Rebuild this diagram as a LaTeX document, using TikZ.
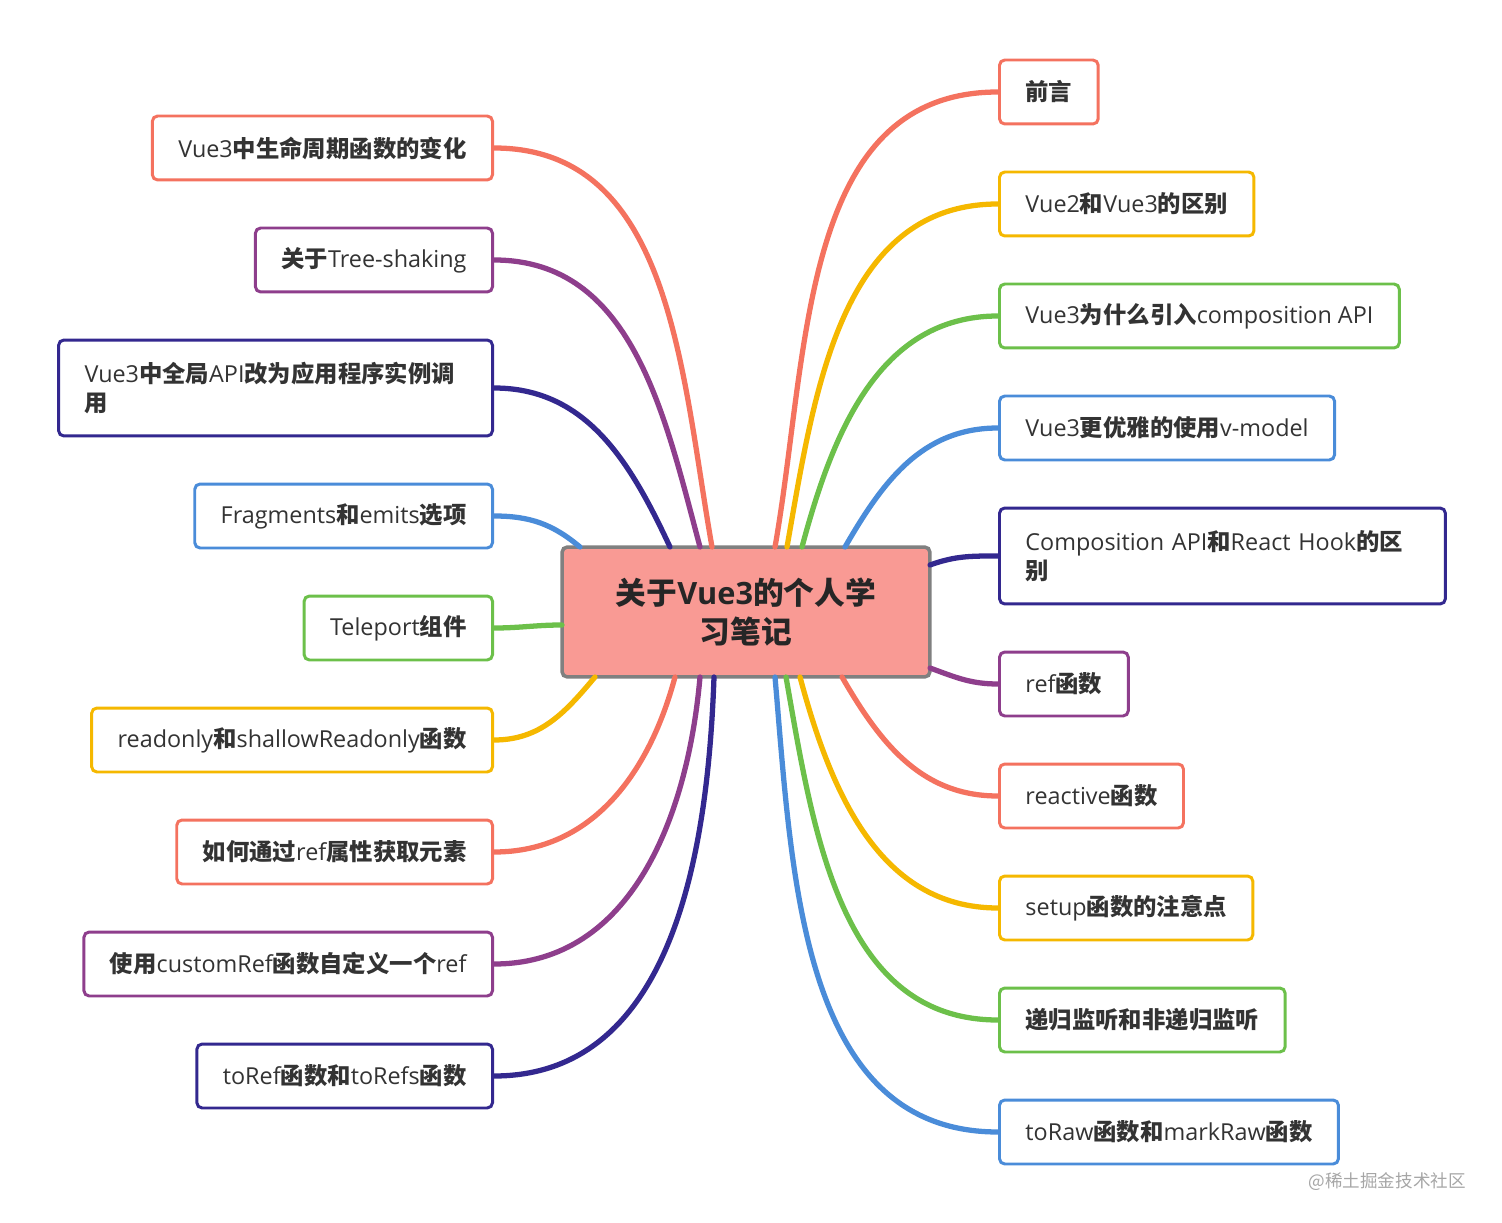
\documentclass[tikz,border=0pt]{standalone}
\usepackage{fontspec}
\setmainfont{Open Sans}
\newfontfamily\cjk{Noto Sans CJK SC}
\usetikzlibrary{positioning}
\definecolor{cred}{HTML}{F4725F}
\definecolor{cyel}{HTML}{F5B800}
\definecolor{cgrn}{HTML}{6CC04A}
\definecolor{cblu}{HTML}{4A8CD9}
\definecolor{cnav}{HTML}{33288F}
\definecolor{cpur}{HTML}{8E3E8C}
\definecolor{cpink}{HTML}{F99A94}
\newcommand{\zh}[1]{{\cjk\bfseries #1}}
\tikzset{
  topic/.style={draw=#1, line width=1.7pt, rounded corners=3pt, fill=white,
    inner xsep=0.52cm, minimum height=1.28cm, font=\fontsize{13.3}{16.5}\selectfont, text=black!80, align=left},
  rtopic/.style={topic=#1, anchor=west},
  ltopic/.style={topic=#1, anchor=east},
  branch/.style={draw=#1, line width=3pt, line cap=round}
}
\begin{document}
\begin{tikzpicture}[x=0.02cm,y=-0.02cm]
\useasboundingbox (0,0) rectangle (1502,1223);
% centre
\node[draw=gray, line width=2pt, rounded corners=3pt, fill=cpink, minimum width=7.36cm, minimum height=2.6cm,
  align=center, font=\fontsize{17.5}{22.5}\selectfont\bfseries, text=black!85] (ctr) at (746,612) {\zh{关于}Vue3\zh{的个人学}\\\zh{习笔记}};
% right side
\node[rtopic=cred] (r1) at (998,92) {\zh{前言}};
\node[rtopic=cyel] (r2) at (998,204) {Vue2\zh{和}Vue3\zh{的区别}};
\node[rtopic=cgrn] (r3) at (998,316) {Vue3\zh{为什么引入}composition API};
\node[rtopic=cblu] (r4) at (998,428) {Vue3\zh{更优雅的使用}v-model};
\node[rtopic=cnav, text width=7.88cm, minimum height=1.92cm] (r5) at (998,556) {Composition API\zh{和}React Hook\zh{的区}\\\zh{别}};
\node[rtopic=cpur] (r6) at (998,684) {ref\zh{函数}};
\node[rtopic=cred] (r7) at (998,796) {reactive\zh{函数}};
\node[rtopic=cyel] (r8) at (998,908) {setup\zh{函数的注意点}};
\node[rtopic=cgrn] (r9) at (998,1020) {\zh{递归监听和非递归监听}};
\node[rtopic=cblu] (r10) at (998,1132) {toRaw\zh{函数和}markRaw\zh{函数}};
% left side
\node[ltopic=cred] (l1) at (494,148) {Vue3\zh{中生命周期函数的变化}};
\node[ltopic=cpur] (l2) at (494,260) {\zh{关于}Tree-shaking};
\node[ltopic=cnav, text width=7.64cm, minimum height=1.92cm] (l3) at (494,388) {Vue3\zh{中全局}API\zh{改为应用程序实例调}\\\zh{用}};
\node[ltopic=cblu] (l4) at (494,516) {Fragments\zh{和}emits\zh{选项}};
\node[ltopic=cgrn] (l5) at (494,628) {Teleport\zh{组件}};
\node[ltopic=cyel] (l6) at (494,740) {readonly\zh{和}shallowReadonly\zh{函数}};
\node[ltopic=cred] (l7) at (494,852) {\zh{如何通过}ref\zh{属性获取元素}};
\node[ltopic=cpur] (l8) at (494,964) {\zh{使用}customRef\zh{函数自定义一个}ref};
\node[ltopic=cnav] (l9) at (494,1076) {toRef\zh{函数和}toRefs\zh{函数}};
% branch roots
\coordinate (sr1) at (775,547);
\coordinate (sr2) at (787,547);
\coordinate (sr3) at (802,547);
\coordinate (sr4) at (845,547);
\coordinate (sr5) at (930,565);
\coordinate (sr6) at (930,668);
\coordinate (sr7) at (842,677);
\coordinate (sr8) at (800,677);
\coordinate (sr9) at (786,677);
\coordinate (sr10) at (775,677);
\coordinate (sl1) at (712,547);
\coordinate (sl2) at (700,547);
\coordinate (sl3) at (670,547);
\coordinate (sl4) at (580,547);
\coordinate (sl5) at (562,625);
\coordinate (sl6) at (595,677);
\coordinate (sl7) at (675,677);
\coordinate (sl8) at (700,677);
\coordinate (sl9) at (714,677);
\draw[branch=cred] (sr1) to[out=80,in=180] (r1.west);
\draw[branch=cyel] (sr2) to[out=80,in=180] (r2.west);
\draw[branch=cgrn] (sr3) to[out=75,in=180] (r3.west);
\draw[branch=cblu] (sr4) to[out=60,in=180] (r4.west);
\draw[branch=cnav] (sr5) to[out=20,in=180] (r5.west);
\draw[branch=cpur] (sr6) to[out=-20,in=180] (r6.west);
\draw[branch=cred] (sr7) to[out=-60,in=180] (r7.west);
\draw[branch=cyel] (sr8) to[out=-75,in=180] (r8.west);
\draw[branch=cgrn] (sr9) to[out=-80,in=180] (r9.west);
\draw[branch=cblu] (sr10) to[out=-85,in=180] (r10.west);
\draw[branch=cred] (sl1) to[out=100,in=0] (l1.east);
\draw[branch=cpur] (sl2) to[out=105,in=0] (l2.east);
\draw[branch=cnav] (sl3) to[out=115,in=0] (l3.east);
\draw[branch=cblu] (sl4) to[out=140,in=0] (l4.east);
\draw[branch=cgrn] (sl5) to[out=180,in=0] (l5.east);
\draw[branch=cyel] (sl6) to[out=-130,in=0] (l6.east);
\draw[branch=cred] (sl7) to[out=-105,in=0] (l7.east);
\draw[branch=cpur] (sl8) to[out=-95,in=0] (l8.east);
\draw[branch=cnav] (sl9) to[out=-92,in=0] (l9.east);
\node[font=\cjk\fontsize{10}{12}\selectfont, text=gray!70, anchor=east] (wm) at (1472,1182) {@稀土掘金技术社区};
\end{tikzpicture}
\end{document}
